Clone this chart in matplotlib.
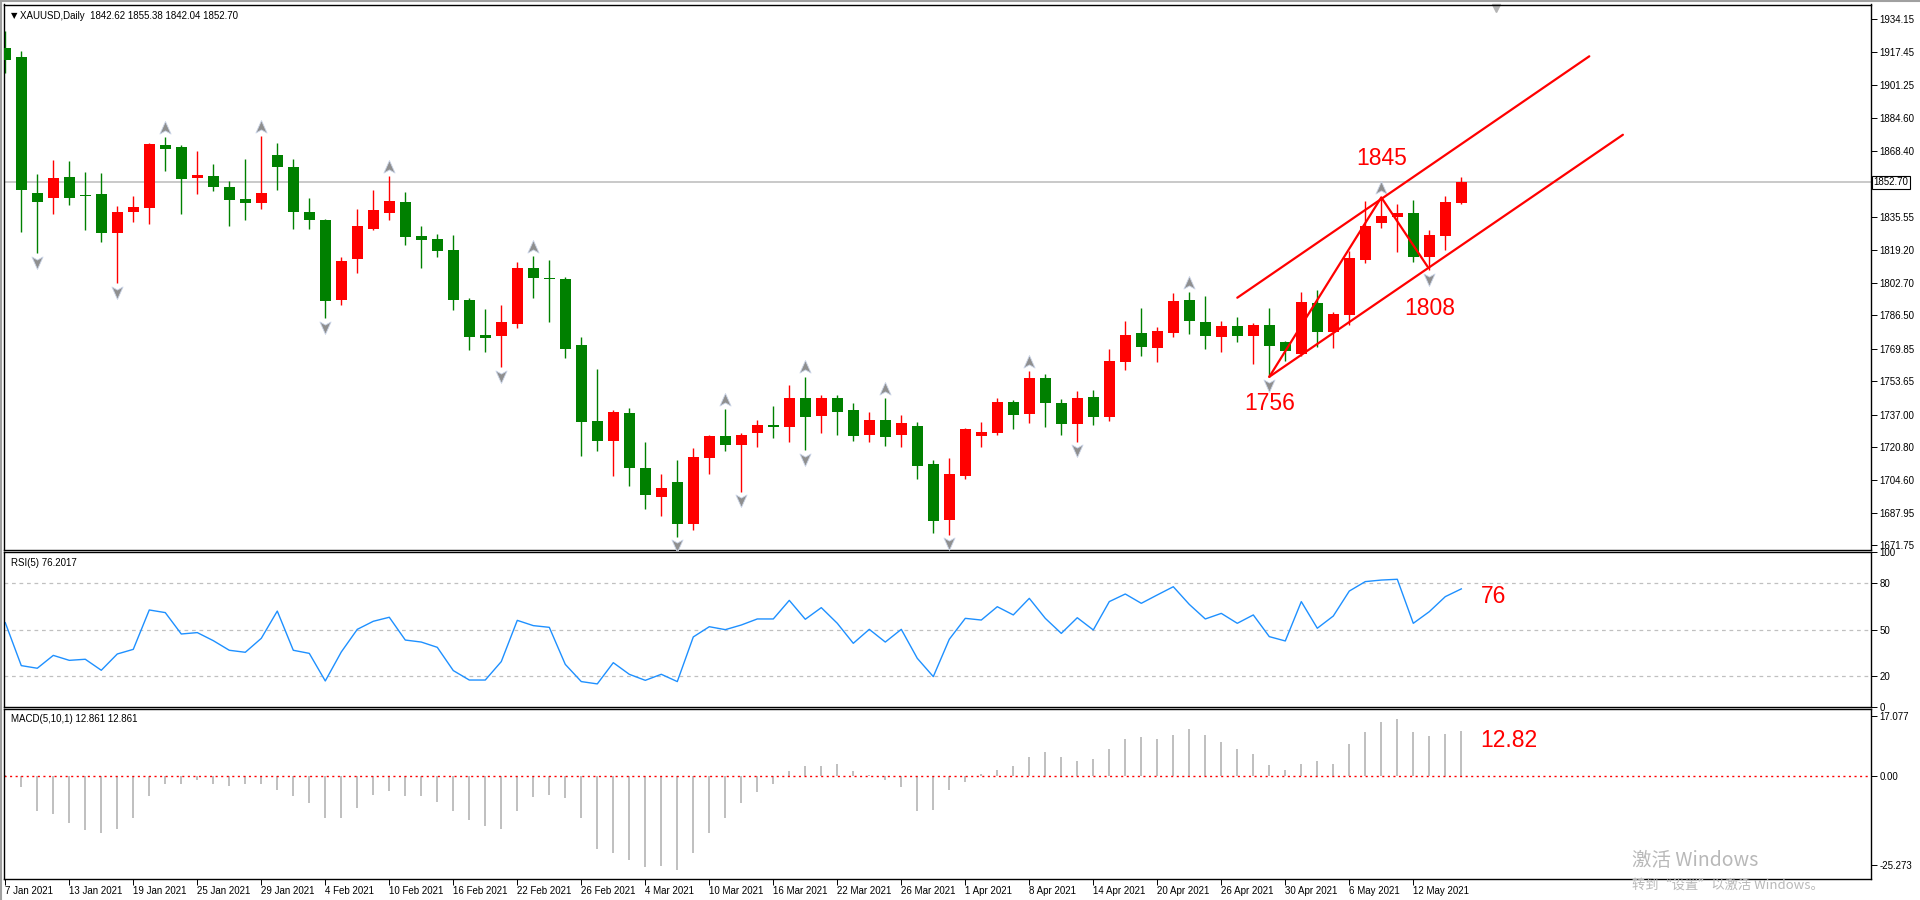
import matplotlib
matplotlib.use("Agg")
import matplotlib.pyplot as plt
from matplotlib.path import Path

# ---- data (XAUUSD daily, 7 Jan .. 17 May 2021) ----
opens = [1919.8, 1915.1, 1847.3, 1845.0, 1855.3, 1846.4, 1846.9, 1827.6, 1838.1, 1840.1,
         1871.2, 1870.3, 1855.0, 1855.8, 1850.4, 1844.4, 1842.5, 1866.3, 1860.3, 1837.9,
         1833.9, 1794.1, 1814.5, 1829.4, 1837.6, 1842.9, 1825.9, 1824.5, 1819.0, 1794.1,
         1776.6, 1776.1, 1782.1, 1810.0, 1805.0, 1804.5, 1771.6, 1733.8, 1723.8, 1737.8,
         1710.4, 1695.9, 1703.4, 1682.6, 1715.5, 1726.3, 1722.0, 1727.9, 1731.8, 1730.9,
         1745.2, 1736.4, 1745.2, 1739.2, 1726.9, 1734.3, 1726.9, 1731.3, 1712.3, 1684.6,
         1706.5, 1726.4, 1728.0, 1743.2, 1737.4, 1755.2, 1742.7, 1732.4, 1745.7, 1735.9,
         1763.3, 1777.6, 1770.3, 1777.8, 1794.1, 1783.1, 1775.8, 1781.1, 1776.3, 1781.6,
         1773.1, 1767.3, 1792.6, 1778.3, 1786.7, 1814.0, 1832.6, 1835.6, 1837.4, 1815.6,
         1826.0, 1842.62]
highs = [1928.1, 1918.1, 1856.8, 1863.8, 1863.3, 1857.8, 1857.3, 1840.9, 1845.9, 1872.5,
         1875.2, 1871.2, 1868.3, 1861.8, 1853.3, 1864.3, 1875.8, 1872.3, 1864.3, 1844.9,
         1834.6, 1815.6, 1839.4, 1848.9, 1855.8, 1847.9, 1830.9, 1826.9, 1826.4, 1794.9,
         1789.6, 1791.6, 1813.0, 1816.0, 1814.0, 1805.5, 1775.6, 1759.7, 1739.1, 1740.2,
         1723.3, 1707.4, 1714.3, 1720.3, 1726.8, 1739.6, 1727.8, 1734.3, 1741.3, 1751.7,
         1755.8, 1746.7, 1746.7, 1742.7, 1738.3, 1745.2, 1736.6, 1733.3, 1714.3, 1715.3,
         1730.3, 1733.3, 1745.2, 1744.2, 1758.7, 1757.2, 1744.7, 1748.7, 1749.2, 1769.6,
         1783.6, 1790.1, 1780.6, 1797.5, 1798.0, 1796.0, 1783.6, 1785.6, 1782.6, 1790.1,
         1773.6, 1798.0, 1799.0, 1788.1, 1818.5, 1843.4, 1845.4, 1841.9, 1843.9, 1828.9,
         1845.9, 1855.38]
lows = [1907.0, 1828.1, 1817.3, 1837.1, 1841.5, 1829.1, 1823.1, 1802.4, 1833.1, 1831.9,
        1858.3, 1837.1, 1847.0, 1848.5, 1831.1, 1834.1, 1839.5, 1849.0, 1829.6, 1829.6,
        1784.9, 1791.6, 1807.7, 1828.9, 1833.9, 1821.5, 1810.1, 1815.6, 1789.1, 1769.1,
        1768.1, 1760.5, 1780.1, 1795.0, 1783.1, 1765.1, 1716.5, 1718.8, 1706.5, 1701.5,
        1689.9, 1686.6, 1676.1, 1679.5, 1707.5, 1718.8, 1698.5, 1721.0, 1725.4, 1723.5,
        1719.2, 1727.9, 1726.9, 1723.9, 1723.5, 1721.5, 1721.0, 1704.9, 1678.1, 1677.1,
        1704.9, 1721.0, 1726.9, 1730.0, 1732.9, 1730.9, 1726.9, 1723.5, 1731.9, 1733.9,
        1759.3, 1766.3, 1763.3, 1775.8, 1777.3, 1769.8, 1768.3, 1773.3, 1762.3, 1755.8,
        1763.8, 1766.3, 1770.8, 1770.3, 1781.7, 1812.6, 1830.1, 1818.1, 1813.1, 1809.0,
        1819.0, 1842.04]
closes = [1913.6, 1848.9, 1843.0, 1854.8, 1845.0, 1845.9, 1827.6, 1837.9, 1840.4, 1871.7,
          1869.3, 1854.3, 1856.3, 1850.5, 1844.0, 1842.5, 1847.4, 1860.5, 1838.1, 1834.1,
          1793.7, 1813.5, 1830.9, 1838.9, 1843.4, 1825.6, 1823.9, 1818.5, 1794.1, 1775.6,
          1775.3, 1783.1, 1810.0, 1805.0, 1804.5, 1769.6, 1733.3, 1723.8, 1738.3, 1710.5,
          1697.0, 1700.4, 1682.6, 1716.0, 1726.3, 1722.0, 1726.8, 1731.8, 1730.9, 1745.2,
          1735.9, 1745.2, 1738.4, 1726.4, 1734.3, 1726.0, 1732.6, 1711.5, 1684.1, 1707.4,
          1729.8, 1728.3, 1743.2, 1736.9, 1755.2, 1742.9, 1732.4, 1745.2, 1735.9, 1763.7,
          1776.6, 1770.8, 1778.6, 1793.6, 1783.7, 1776.3, 1781.1, 1776.3, 1781.6, 1771.3,
          1768.8, 1793.1, 1778.3, 1787.1, 1815.0, 1830.9, 1835.9, 1837.4, 1815.3, 1826.4,
          1842.9, 1852.70]

rsi = [54.4, 26.7, 25.0, 33.3, 30.1, 30.8, 23.7, 34.2, 37.2, 62.6,
       60.9, 47.1, 48.0, 42.8, 36.6, 35.3, 44.3, 61.9, 36.6, 34.6,
       16.8, 35.5, 50.1, 55.3, 57.9, 43.2, 41.9, 38.5, 23.5, 17.4,
       17.4, 29.3, 55.9, 52.5, 51.4, 27.5, 16.4, 14.9, 28.6, 21.1,
       17.2, 21.1, 16.4, 45.2, 51.8, 49.9, 52.9, 56.8, 56.8, 68.8,
       56.6, 64.1, 54.0, 41.1, 50.1, 41.9, 50.1, 31.4, 19.6, 43.7,
       57.2, 56.1, 64.7, 59.4, 70.1, 57.2, 47.5, 57.6, 49.7, 68.0,
       72.9, 66.9, 72.3, 77.6, 66.2, 56.8, 60.4, 54.0, 59.4, 45.4,
       42.6, 68.0, 50.8, 58.7, 74.8, 80.9, 81.9, 82.4, 54.0, 61.5,
       71.2, 76.2]

macd = [0.5, -3.0, -9.8, -10.8, -13.3, -15.4, -16.1, -15.0, -11.9, -5.6,
        -2.1, -2.1, -1.0, -2.1, -2.8, -2.1, -2.1, -3.8, -5.6, -7.7,
        -11.9, -11.9, -9.1, -5.2, -4.2, -5.6, -5.6, -7.3, -9.8, -12.6,
        -14.3, -15.0, -9.8, -5.9, -5.2, -6.3, -11.9, -20.6, -22.0, -23.8,
        -25.9, -25.5, -26.6, -22.0, -16.1, -11.9, -7.7, -4.5, -2.1, 1.4,
        2.8, 2.8, 3.5, 1.4, 0.3, -1.0, -3.0, -9.8, -9.5, -4.0,
        -1.5, 0.7, 1.7, 2.8, 5.6, 7.0, 5.6, 4.5, 4.9, 7.7,
        10.5, 11.2, 10.5, 11.9, 13.6, 11.9, 9.8, 7.7, 6.3, 3.1,
        1.7, 3.5, 4.5, 3.5, 9.1, 12.6, 15.4, 16.4, 12.6, 11.5,
        12.2, 12.86]

# fractal bars (up = above high, down = below low)
fractal_up = [10, 16, 24, 33, 45, 50, 55, 64, 74, 86]
fractal_down = [2, 7, 20, 31, 42, 46, 50, 59, 67, 79, 89]

date_labels = ['7 Jan 2021', '13 Jan 2021', '19 Jan 2021', '25 Jan 2021', '29 Jan 2021',
               '4 Feb 2021', '10 Feb 2021', '16 Feb 2021', '22 Feb 2021', '26 Feb 2021',
               '4 Mar 2021', '10 Mar 2021', '16 Mar 2021', '22 Mar 2021', '26 Mar 2021',
               '1 Apr 2021', '8 Apr 2021', '14 Apr 2021', '20 Apr 2021', '26 Apr 2021',
               '30 Apr 2021', '6 May 2021', '12 May 2021']
date_pos = list(range(0, 4 * len(date_labels), 4))

price_ticks = [1934.15, 1917.45, 1901.25, 1884.60, 1868.40, 1835.55, 1819.20, 1802.70,
               1786.50, 1769.85, 1753.65, 1737.00, 1720.80, 1704.60, 1687.95, 1671.75]
last_price = 1852.70
rsi_ticks = [100, 80, 50, 20, 0]
macd_ticks = [17.077, 0.0, -25.273]

# hand drawn analysis lines (bar index, price)
upper_line = [(77.0, 1795.2), (99.0, 1915.5)]
lower_line = [(79.0, 1755.8), (101.1, 1876.4)]
zigzag = [(79.0, 1755.8), (86.0, 1845.2), (88.9, 1810.6)]
notes = [(86.0, 1864.7, '1845'), (79.0, 1742.6, '1756'), (89.0, 1789.9, '1808')]

W, H = 1920, 900
GREEN = '#008000'
RED = '#ff0000'
FONT = 'Liberation Sans'
plt.rcParams['font.family'] = [FONT, 'DejaVu Sans']


def rect(left, top, right, bottom):
    return [left / W, 1 - bottom / H, (right - left) / W, (bottom - top) / H]


fig = plt.figure(figsize=(W / 100, H / 100), dpi=100)
fig.patch.set_facecolor('white')

XL, XR = 4, 1871
xlim = (-0.08, (XR - 5.3) / 16)

ax = fig.add_axes(rect(XL, 4.5, XR, 550))
ax_rsi = fig.add_axes(rect(XL, 552, XR, 707))
ax_macd = fig.add_axes(rect(XL, 709, XR, 879))

for a in (ax, ax_rsi, ax_macd):
    a.set_xlim(*xlim)
    a.yaxis.tick_right()
    a.tick_params(axis='y', direction='out', length=4, width=0.7, labelsize=7, pad=2,
                  colors='black')
    a.tick_params(axis='x', bottom=False, labelbottom=False)
    for s in a.spines.values():
        s.set_color('black')
        s.set_linewidth(1.0)

# ---- candles ----
x = list(range(len(opens)))
ax.set_ylim(1669.5, 1941.3)
ax.axhline(last_price, color='#c0c0c0', lw=1.2, zorder=1)
for i in x:
    o, h, l, c = opens[i], highs[i], lows[i], closes[i]
    col = RED if c >= o else GREEN
    ax.vlines(i, l, h, color=col, lw=1.0, zorder=2)
    lo, hi = min(o, c), max(o, c)
    if hi - lo < 0.6:
        hi = lo + 0.6
    ax.bar(i, hi - lo, bottom=lo, width=0.69, color=col, linewidth=0, zorder=3)

# fractal arrows
up_arrow = Path([(0, 1), (0.8, -0.8), (0, -0.35), (-0.8, -0.8), (0, 1)],
                [Path.MOVETO, Path.LINETO, Path.LINETO, Path.LINETO, Path.CLOSEPOLY])
down_arrow = Path([(0, -1), (0.8, 0.8), (0, 0.35), (-0.8, 0.8), (0, -1)],
                  [Path.MOVETO, Path.LINETO, Path.LINETO, Path.LINETO, Path.CLOSEPOLY])
ax.plot(fractal_up, [highs[i] + 4.7 for i in fractal_up], ls='none', marker=up_arrow,
        ms=10, mfc='#8f8f8f', mec='#c9d3e6', mew=0.6, zorder=4)
ax.plot(fractal_down, [lows[i] - 4.3 for i in fractal_down], ls='none', marker=down_arrow,
        ms=10, mfc='#8f8f8f', mec='#c9d3e6', mew=0.6, zorder=4)

# chart shift marker
ax.plot([93.2], [1939.6], ls='none', marker='v', ms=6, color='#b4b4b4', clip_on=False)

# analysis lines
for line in (upper_line, lower_line, zigzag):
    ax.plot([p[0] for p in line], [p[1] for p in line], color=RED, lw=1.6,
            solid_capstyle='round', zorder=5)
for bx, py, t in notes:
    ax.text(bx, py, t, color=RED, fontsize=16.5, ha='center', va='center', family=FONT)

ax.set_yticks(price_ticks)
ax.set_yticklabels(['%.2f' % p for p in price_ticks])
ax.text(1.0015, last_price, '%.2f' % last_price, transform=ax.get_yaxis_transform(),
        fontsize=7, va='center', ha='left', color='black',
        bbox=dict(boxstyle='square,pad=0.18', fc='white', ec='black', lw=0.8))
ax.text(0.0035, 0.979, '\u25bc', transform=ax.transAxes, fontsize=6, va='center',
        family='DejaVu Sans')
ax.text(0.0085, 0.979, 'XAUUSD,Daily  %.2f %.2f %.2f %.2f' % (opens[-1], highs[-1],
        lows[-1], closes[-1]), transform=ax.transAxes, fontsize=7, va='center')

# ---- RSI ----
ax_rsi.set_ylim(0, 100)
for lvl in (80, 50, 20):
    ax_rsi.axhline(lvl, color='#c0c0c0', lw=0.9, ls=(0, (3, 3)))
ax_rsi.plot(x, rsi, color='#1e90ff', lw=1.0)
ax_rsi.set_yticks(rsi_ticks)
ax_rsi.set_yticklabels([str(v) for v in rsi_ticks])
ax_rsi.text(0.0035, 0.93, 'RSI(5) %.4f' % 76.2017, transform=ax_rsi.transAxes,
            fontsize=7, va='center')
ax_rsi.text(93.0, 71.6, '76', color=RED, fontsize=16.5, ha='center', va='center')

# ---- MACD ----
ax_macd.set_ylim(-29.3, 19.2)
ax_macd.axhline(0, color=RED, lw=1.0, ls=(0, (1.5, 2.5)))
ax_macd.bar(x, macd, width=0.13, color='#c0c0c0', linewidth=0)
ax_macd.set_yticks(macd_ticks)
ax_macd.set_yticklabels(['17.077', '0.00', '-25.273'])
ax_macd.text(0.0035, 0.94, 'MACD(5,10,1) 12.861 12.861', transform=ax_macd.transAxes,
             fontsize=7, va='center')
ax_macd.text(93.97, 10.1, '12.82', color=RED, fontsize=16.5, ha='center', va='center')

ax_macd.tick_params(axis='x', bottom=True, labelbottom=True, direction='out', length=4,
                    width=0.7, labelsize=7, pad=1)
ax_macd.set_xticks(date_pos)
ax_macd.set_xticklabels(date_labels, ha='left')

# outer frame
fig.add_artist(plt.Line2D([0.5 / W, 0.5 / W], [0, 1], color='#a0a0a0', lw=1.5))
fig.add_artist(plt.Line2D([0, 1], [1 - 0.8 / H, 1 - 0.8 / H], color='#a0a0a0', lw=1.5))

# windows activation watermark
cjk = ['Noto Sans CJK SC', 'DejaVu Sans']
fig.text(1632 / W, 1 - 860 / H, '激活 Windows', color='#b8b8b8', fontsize=14,
         family=cjk, va='center')
fig.text(1632 / W, 1 - 885 / H, '转到“设置”以激活 Windows。', color='#b8b8b8',
         fontsize=9.5, family=cjk, va='center')

fig.savefig('out.png', dpi=100)
